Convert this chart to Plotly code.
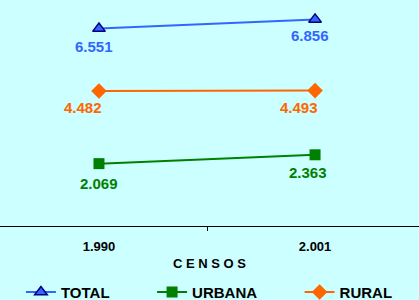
import plotly.graph_objects as go

censos = ["1.990", "2.001"]
total = [6551, 6856]
urbana = [2069, 2363]
rural = [4482, 4493]
total_lbl = ["6.551", "6.856"]
urbana_lbl = ["2.069", "2.363"]
rural_lbl = ["4.482", "4.493"]
series_names = ["TOTAL", "URBANA", "RURAL"]

BLUE = "#3366FF"
GREEN = "#008000"
ORANGE = "#FF6600"
FONT = "Liberation Sans, Arial, sans-serif"
NB = "\u00a0"

fig = go.Figure()
fig.add_trace(go.Scatter(
    x=censos, y=total, name="<b>" + series_names[0] + "</b>" + NB * 9, mode="lines+markers",
    line=dict(color=BLUE, width=2),
    marker=dict(symbol="triangle-up", size=11, color=BLUE,
                line=dict(color="#000080", width=1.5))))
fig.add_trace(go.Scatter(
    x=censos, y=urbana, name="<b>" + series_names[1] + "</b>" + NB * 9, mode="lines+markers",
    line=dict(color=GREEN, width=2),
    marker=dict(symbol="square", size=11, color=GREEN,
                line=dict(color=GREEN, width=0))))
fig.add_trace(go.Scatter(
    x=censos, y=rural, name="<b>" + series_names[2] + "</b>", mode="lines+markers",
    line=dict(color=ORANGE, width=2),
    marker=dict(symbol="diamond", size=12, color=ORANGE,
                line=dict(color=ORANGE, width=0))))

shifts = {
    "t": [(-5, -18), (-5, -16)],
    "u": [(0, -20), (-7, -18)],
    "r": [(-16, -17), (-16, -17)],
}
for key, vals, lbls, col in [("t", total, total_lbl, BLUE),
                             ("u", urbana, urbana_lbl, GREEN),
                             ("r", rural, rural_lbl, ORANGE)]:
    for i, (c, v, l) in enumerate(zip(censos, vals, lbls)):
        dx, dy = shifts[key][i]
        fig.add_annotation(x=i, y=v, xref="x", yref="y",
                           text="<b>" + l + "</b>", showarrow=False,
                           xshift=dx, yshift=dy,
                           font=dict(family=FONT, size=15, color=col))

fig.update_layout(
    width=419, height=300,
    margin=dict(l=0, r=0, t=0, b=74, autoexpand=False),
    paper_bgcolor="#CCFFFF", plot_bgcolor="#CCFFFF",
    showlegend=True,
    legend=dict(orientation="h", x=0.05, xanchor="left",
                yref="container", y=0.026, yanchor="middle",
                font=dict(family=FONT, size=15, color="#000000"),
                bgcolor="rgba(0,0,0,0)"),
    xaxis=dict(type="category", range=[-0.458, 1.481],
               tickson="boundaries", ticks="outside", ticklen=4,
               tickcolor="#000000", showline=True, linecolor="#000000",
               linewidth=1, showgrid=False, zeroline=False,
               ticklabelstandoff=8,
               tickfont=dict(family=FONT, size=13, color="#000000", weight="bold"),
               title=dict(text="<b>C E N S O S</b>", standoff=6,
                          font=dict(family=FONT, size=13, color="#000000"))),
    yaxis=dict(range=[0, 7500], visible=False, showgrid=False, zeroline=False),
)

fig.write_html("out.html", config={"displayModeBar": False},
               post_script="document.body.style.margin='0';document.body.style.background='#CCFFFF';")
